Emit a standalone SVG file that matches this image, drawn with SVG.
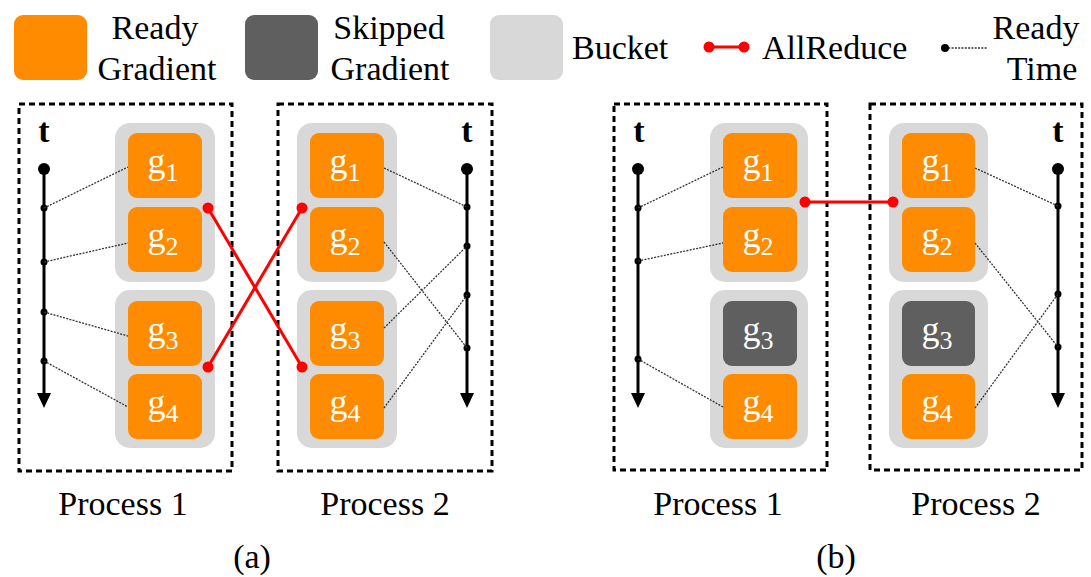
<svg xmlns="http://www.w3.org/2000/svg" width="1091" height="577" viewBox="0 0 1091 577" font-family="'Liberation Serif', 'Times New Roman', Times, serif">
<defs>
<style>
text{font-family:'Liberation Serif','Times New Roman',Times,serif}
.txt{font-size:34px;fill:#000}
.t{font-size:34px;font-weight:bold;fill:#000;text-anchor:middle}
.g{font-size:36px;fill:#fff;text-anchor:middle}
.proc{fill:none;stroke:#000;stroke-width:3;stroke-dasharray:6 4}
.bucket{fill:#d8d8d8}
.ready{fill:#ff8c00}
.skip{fill:#5f5f5f}
.axis{stroke:#000;stroke-width:3}
.dot{stroke:#333;stroke-width:1.3;stroke-dasharray:2 1.3;fill:none}
.red{stroke:#ff0000;stroke-width:3;fill:none}
.rdot{fill:#ff0000}
</style>
</defs>
<rect width="1091" height="577" fill="#fff"/>

<!-- Legend -->
<g id="legend">
<rect class="ready" x="14" y="15" width="73" height="65" rx="9"/>
<text class="txt" x="155" y="39" text-anchor="middle">Ready</text>
<text class="txt" x="157" y="80" text-anchor="middle">Gradient</text>
<rect class="skip" x="245" y="15" width="73" height="65" rx="9"/>
<text class="txt" x="389" y="39" text-anchor="middle">Skipped</text>
<text class="txt" x="390" y="80" text-anchor="middle">Gradient</text>
<rect class="bucket" x="490" y="15" width="73" height="65" rx="9"/>
<text class="txt" x="572" y="59">Bucket</text>
<line class="red" x1="709" y1="47" x2="744" y2="47"/>
<circle class="rdot" cx="709" cy="47" r="5.5"/>
<circle class="rdot" cx="744" cy="47" r="5.5"/>
<text class="txt" x="762" y="59">AllReduce</text>
<line class="dot" x1="945" y1="48" x2="988" y2="48"/>
<circle cx="945" cy="48" r="4" fill="#000"/>
<text class="txt" x="1036" y="39" text-anchor="middle">Ready</text>
<text class="txt" x="1042" y="80" text-anchor="middle">Time</text>
</g>

<!-- (a) Process 1 -->
<g id="a-process1">
<rect class="proc" x="19" y="104" width="213" height="367"/>
<text class="t" x="44" y="142">t</text>
<line class="axis" x1="44" y1="169" x2="44" y2="395"/>
<polygon points="37,393 51,393 44,408" fill="#000"/>
<circle cx="44" cy="169" r="6" fill="#000"/>
<circle cx="44" cy="208" r="3.5" fill="#000"/>
<circle cx="44" cy="262" r="3.5" fill="#000"/>
<circle cx="44" cy="312" r="3.5" fill="#000"/>
<circle cx="44" cy="361" r="3.5" fill="#000"/>
<rect class="bucket" x="115" y="123" width="100" height="159" rx="15"/>
<rect class="bucket" x="115" y="290" width="100" height="158" rx="15"/>
<g id="a-p1-g1"><rect class="ready" x="128" y="133" width="74" height="65" rx="9"/><text class="g" x="163" y="173">g<tspan font-size="26" dy="8">1</tspan></text></g>
<g id="a-p1-g2"><rect class="ready" x="128" y="207" width="74" height="65" rx="9"/><text class="g" x="163" y="247">g<tspan font-size="26" dy="8">2</tspan></text></g>
<g id="a-p1-g3"><rect class="ready" x="128" y="301" width="74" height="65" rx="9"/><text class="g" x="163" y="341">g<tspan font-size="26" dy="8">3</tspan></text></g>
<g id="a-p1-g4"><rect class="ready" x="128" y="374" width="74" height="65" rx="9"/><text class="g" x="163" y="414">g<tspan font-size="26" dy="8">4</tspan></text></g>
<text class="txt" x="123" y="515" text-anchor="middle">Process 1</text>
</g>

<!-- (a) Process 2 -->
<g id="a-process2">
<rect class="proc" x="278" y="104" width="214" height="367"/>
<text class="t" x="467" y="142">t</text>
<line class="axis" x1="467" y1="169" x2="467" y2="395"/>
<polygon points="460,393 474,393 467,408" fill="#000"/>
<circle cx="467" cy="169" r="6" fill="#000"/>
<circle cx="467" cy="207" r="3.5" fill="#000"/>
<circle cx="467" cy="246" r="3.5" fill="#000"/>
<circle cx="467" cy="295" r="3.5" fill="#000"/>
<circle cx="467" cy="348" r="3.5" fill="#000"/>
<rect class="bucket" x="297" y="123" width="100" height="159" rx="15"/>
<rect class="bucket" x="297" y="290" width="100" height="158" rx="15"/>
<g id="a-p2-g1"><rect class="ready" x="310" y="133" width="74" height="65" rx="9"/><text class="g" x="345" y="173">g<tspan font-size="26" dy="8">1</tspan></text></g>
<g id="a-p2-g2"><rect class="ready" x="310" y="207" width="74" height="65" rx="9"/><text class="g" x="345" y="247">g<tspan font-size="26" dy="8">2</tspan></text></g>
<g id="a-p2-g3"><rect class="ready" x="310" y="301" width="74" height="65" rx="9"/><text class="g" x="345" y="341">g<tspan font-size="26" dy="8">3</tspan></text></g>
<g id="a-p2-g4"><rect class="ready" x="310" y="374" width="74" height="65" rx="9"/><text class="g" x="345" y="414">g<tspan font-size="26" dy="8">4</tspan></text></g>
<text class="txt" x="385" y="515" text-anchor="middle">Process 2</text>
</g>

<!-- (b) Process 1 -->
<g id="b-process1">
<rect class="proc" x="614" y="104" width="213" height="366"/>
<text class="t" x="639" y="142">t</text>
<line class="axis" x1="638" y1="169" x2="638" y2="395"/>
<polygon points="631,393 645,393 638,408" fill="#000"/>
<circle cx="638" cy="169" r="6" fill="#000"/>
<circle cx="638" cy="208" r="3.5" fill="#000"/>
<circle cx="638" cy="261" r="3.5" fill="#000"/>
<circle cx="638" cy="359" r="3.5" fill="#000"/>
<rect class="bucket" x="710" y="123" width="98" height="159" rx="15"/>
<rect class="bucket" x="710" y="290" width="98" height="158" rx="15"/>
<g id="b-p1-g1"><rect class="ready" x="723" y="133" width="74" height="65" rx="9"/><text class="g" x="758" y="173">g<tspan font-size="26" dy="8">1</tspan></text></g>
<g id="b-p1-g2"><rect class="ready" x="723" y="207" width="74" height="65" rx="9"/><text class="g" x="758" y="247">g<tspan font-size="26" dy="8">2</tspan></text></g>
<g id="b-p1-g3"><rect class="skip" x="723" y="301" width="74" height="65" rx="9"/><text class="g" x="758" y="341">g<tspan font-size="26" dy="8">3</tspan></text></g>
<g id="b-p1-g4"><rect class="ready" x="723" y="374" width="74" height="65" rx="9"/><text class="g" x="758" y="414">g<tspan font-size="26" dy="8">4</tspan></text></g>
<text class="txt" x="718" y="515" text-anchor="middle">Process 1</text>
</g>

<!-- (b) Process 2 -->
<g id="b-process2">
<rect class="proc" x="870" y="104" width="212" height="366"/>
<text class="t" x="1058" y="142">t</text>
<line class="axis" x1="1058" y1="169" x2="1058" y2="395"/>
<polygon points="1051,393 1065,393 1058,408" fill="#000"/>
<circle cx="1058" cy="169" r="6" fill="#000"/>
<circle cx="1058" cy="206" r="3.5" fill="#000"/>
<circle cx="1058" cy="294" r="3.5" fill="#000"/>
<circle cx="1058" cy="347" r="3.5" fill="#000"/>
<rect class="bucket" x="889" y="123" width="99" height="159" rx="15"/>
<rect class="bucket" x="889" y="290" width="99" height="158" rx="15"/>
<g id="b-p2-g1"><rect class="ready" x="902" y="133" width="73" height="65" rx="9"/><text class="g" x="937" y="173">g<tspan font-size="26" dy="8">1</tspan></text></g>
<g id="b-p2-g2"><rect class="ready" x="902" y="207" width="73" height="65" rx="9"/><text class="g" x="937" y="247">g<tspan font-size="26" dy="8">2</tspan></text></g>
<g id="b-p2-g3"><rect class="skip" x="902" y="301" width="73" height="65" rx="9"/><text class="g" x="937" y="341">g<tspan font-size="26" dy="8">3</tspan></text></g>
<g id="b-p2-g4"><rect class="ready" x="902" y="374" width="73" height="65" rx="9"/><text class="g" x="937" y="414">g<tspan font-size="26" dy="8">4</tspan></text></g>
<text class="txt" x="976" y="515" text-anchor="middle">Process 2</text>
</g>

<!-- Connectors -->
<g id="connectors">
<line class="dot" x1="44" y1="208" x2="128" y2="167"/>
<line class="dot" x1="44" y1="262" x2="128" y2="243"/>
<line class="dot" x1="44" y1="312" x2="128" y2="336"/>
<line class="dot" x1="44" y1="361" x2="128" y2="407"/>
<line class="dot" x1="384" y1="168" x2="467" y2="207"/>
<line class="dot" x1="384" y1="242" x2="467" y2="348"/>
<line class="dot" x1="384" y1="328" x2="467" y2="246"/>
<line class="dot" x1="384" y1="408" x2="467" y2="295"/>
<line class="dot" x1="638" y1="208" x2="723" y2="167"/>
<line class="dot" x1="638" y1="261" x2="723" y2="243"/>
<line class="dot" x1="638" y1="359" x2="723" y2="407"/>
<line class="dot" x1="975" y1="168" x2="1058" y2="206"/>
<line class="dot" x1="975" y1="243" x2="1058" y2="347"/>
<line class="dot" x1="975" y1="408" x2="1058" y2="294"/>
<line class="red" x1="208" y1="208" x2="302" y2="367"/>
<line class="red" x1="208" y1="367" x2="302" y2="208"/>
<circle class="rdot" cx="208" cy="208" r="5.5"/>
<circle class="rdot" cx="208" cy="367" r="5.5"/>
<circle class="rdot" cx="302" cy="208" r="5.5"/>
<circle class="rdot" cx="302" cy="367" r="5.5"/>
<line class="red" x1="805" y1="202" x2="893" y2="202"/>
<circle class="rdot" cx="805" cy="202" r="5.5"/>
<circle class="rdot" cx="893" cy="202" r="5.5"/>
</g>

<text class="txt" x="252" y="568" text-anchor="middle">(a)</text>
<text class="txt" x="836" y="568" text-anchor="middle">(b)</text>
</svg>
